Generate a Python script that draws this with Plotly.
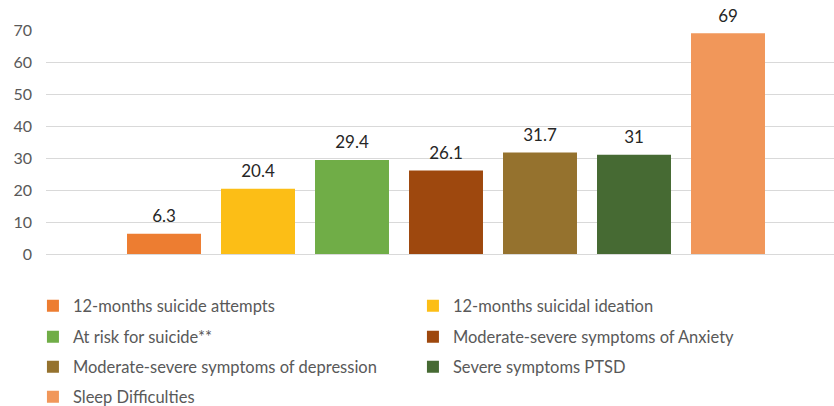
import plotly.graph_objects as go

# Survey outcomes (percent of respondents)
category = ["Outcomes"]
series_names = [
    "12-months suicide attempts",
    "12-months suicidal ideation",
    "At risk for suicide**",
    "Moderate-severe symptoms of Anxiety",
    "Moderate-severe symptoms of depression",
    "Severe symptoms PTSD",
    "Sleep Difficulties",
]
values = [6.3, 20.4, 29.4, 26.1, 31.7, 31, 69]
colors = ["#ED7D31", "#FCBE16", "#70AD47", "#9E480E", "#95722E", "#466A33", "#F1975A"]
y_ticks = [0, 10, 20, 30, 40, 50, 60, 70]

FONT = "Lato"
BAR_GAP = 0.1775
GROUP_GAP = 0.213

fig = go.Figure()

# one legend per row, two entries each
legend_of = ["legend", "legend", "legend2", "legend2", "legend3", "legend3", "legend4"]

for name, v, c, lg in zip(series_names, values, colors, legend_of):
    fig.add_trace(go.Bar(
        x=category, y=[v], name=name, marker_color=c, marker_line_width=0,
        legend=lg, offsetgroup=name, hoverinfo="skip",
    ))

# value labels, grouped the same way as the bars
for name, v in zip(series_names, values):
    fig.add_trace(go.Scatter(
        x=category, y=[v], mode="markers+text", text=[f"{v:g}"],
        textposition="top center", offsetgroup=name,
        marker=dict(size=10, color="rgba(0,0,0,0)"),
        textfont=dict(family=FONT, size=17, color="#262626"),
        showlegend=False, hoverinfo="skip", cliponaxis=False,
    ))

row_y = [306, 337, 367, 397]
legend_common = dict(
    orientation="h", xref="container", yref="container",
    x=0.0395, xanchor="left", yanchor="middle",
    font=dict(family=FONT, size=16.5, color="#595959"),
    entrywidth=335, entrywidthmode="pixels", itemwidth=30,
    bgcolor="rgba(0,0,0,0)", traceorder="normal",
)

fig.update_layout(
    width=834, height=406,
    margin=dict(l=46, r=0, t=30, b=152),
    paper_bgcolor="white", plot_bgcolor="white",
    barmode="group", bargap=BAR_GAP, bargroupgap=GROUP_GAP,
    scattermode="group", scattergap=BAR_GAP,
    xaxis=dict(range=[-0.5, 0.485], showticklabels=False, showgrid=False,
               zeroline=False, showline=False, fixedrange=True),
    yaxis=dict(range=[0, 70], tickvals=y_ticks, showgrid=True,
               gridcolor="#D9D9D9", gridwidth=1, zeroline=True,
               zerolinecolor="#D9D9D9", zerolinewidth=1, showline=False,
               ticklabelstandoff=13,
               tickfont=dict(family=FONT, size=16, color="#595959")),
    legend=dict(**legend_common, y=1 - row_y[0] / 406),
    legend2=dict(**legend_common, y=1 - row_y[1] / 406),
    legend3=dict(**legend_common, y=1 - row_y[2] / 406),
    legend4=dict(**legend_common, y=1 - row_y[3] / 406),
    showlegend=True,
)

fig.write_html("out.html")
